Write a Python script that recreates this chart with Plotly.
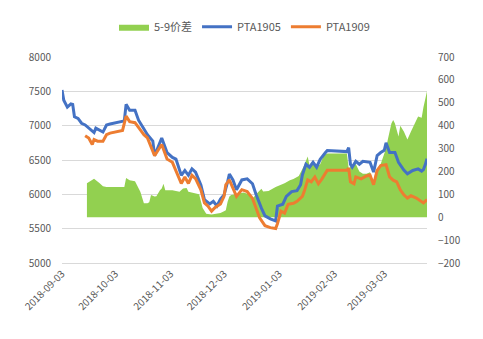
import plotly.graph_objects as go

# ---- data ----
spread_dates = ["2018-09-17","2018-09-20","2018-09-21","2018-09-24","2018-09-26","2018-09-28","2018-10-08","2018-10-09",
"2018-10-11","2018-10-14","2018-10-17","2018-10-19","2018-10-21","2018-10-22","2018-10-23","2018-10-25","2018-10-26",
"2018-10-28","2018-10-29","2018-10-30","2018-10-31","2018-11-04","2018-11-06","2018-11-08","2018-11-10","2018-11-12",
"2018-11-13","2018-11-18","2018-11-19","2018-11-21","2018-11-23","2018-11-26","2018-11-29","2018-12-01","2018-12-03",
"2018-12-04","2018-12-05","2018-12-06","2018-12-07","2018-12-11","2018-12-14","2018-12-17","2018-12-19","2018-12-21",
"2018-12-24","2018-12-25","2018-12-28","2019-01-01","2019-01-04","2019-01-06","2019-01-09","2019-01-11","2019-01-14",
"2019-01-16","2019-01-17","2019-01-19","2019-01-20","2019-01-22","2019-01-24","2019-01-26","2019-01-28","2019-01-30",
"2019-02-10","2019-02-11","2019-02-13","2019-02-15","2019-02-17","2019-02-19","2019-02-21","2019-02-23","2019-02-25",
"2019-02-26","2019-03-01","2019-03-03","2019-03-04","2019-03-05","2019-03-06","2019-03-07","2019-03-08","2019-03-09",
"2019-03-11","2019-03-12","2019-03-14","2019-03-16","2019-03-18","2019-03-20","2019-03-22","2019-03-24","2019-03-25",
"2019-03-27"]
spread_vals = [148,165,168,150,135,132,132,171,
161,157,111,61,61,65,97,90,92,
118,125,146,118,118,115,111,125,128,
111,104,100,40,15,12,14,18,26,
30,68,90,97,105,108,100,81,100,
124,112,115,132,141,148,162,167,180,
209,226,265,226,248,220,231,270,278,
278,215,225,232,200,190,190,196,154,
196,232,280,300,340,380,410,425,410,
353,400,375,340,375,405,440,435,480,
550]

pta1905_dates = ["2018-09-03","2018-09-04","2018-09-06","2018-09-08","2018-09-09","2018-09-10","2018-09-12","2018-09-14",
"2018-09-16","2018-09-18","2018-09-21","2018-09-22","2018-09-24","2018-09-26","2018-09-28","2018-09-30","2018-10-08",
"2018-10-09","2018-10-11","2018-10-14","2018-10-16","2018-10-19","2018-10-21","2018-10-24","2018-10-25","2018-10-29",
"2018-11-01","2018-11-04","2018-11-06","2018-11-09","2018-11-11","2018-11-13","2018-11-15","2018-11-17","2018-11-20",
"2018-11-22","2018-11-25","2018-11-27","2018-11-29","2018-12-01","2018-12-03","2018-12-05","2018-12-06","2018-12-08",
"2018-12-10","2018-12-13","2018-12-16","2018-12-19","2018-12-21","2018-12-24","2018-12-26","2018-12-29","2019-01-01",
"2019-01-02","2019-01-05","2019-01-07","2019-01-10","2019-01-13","2019-01-15","2019-01-16","2019-01-18","2019-01-20",
"2019-01-22","2019-01-24","2019-01-26","2019-01-29","2019-01-30","2019-02-10","2019-02-11","2019-02-12","2019-02-13",
"2019-02-15","2019-02-17","2019-02-19","2019-02-23","2019-02-25","2019-02-27","2019-03-01","2019-03-03","2019-03-04",
"2019-03-06","2019-03-09","2019-03-11","2019-03-14","2019-03-16","2019-03-19","2019-03-22","2019-03-24","2019-03-25",
"2019-03-26","2019-03-27"]
pta1905_vals = [7520,7370,7270,7318,7310,7130,7105,7035,
7010,6963,6900,6963,6940,6907,7010,7025,7070,
7310,7225,7225,7080,6940,6868,6775,6562,6821,
6608,6537,6513,6277,6348,6277,6371,6324,6136,
5923,5860,5898,5830,5930,5990,6182,6296,6210,
6068,6210,6225,6154,5997,5799,5686,5643,5614,
5827,5856,5970,6040,6054,6140,6282,6438,6395,
6466,6395,6509,6608,6637,6622,6679,6438,6395,
6480,6438,6480,6466,6324,6565,6608,6641,6750,
6608,6608,6466,6352,6300,6348,6371,6338,6360,
6430,6520]

pta1909_dates = ["2018-09-16","2018-09-18","2018-09-20","2018-09-21","2018-09-23","2018-09-26","2018-09-28","2018-09-30",
"2018-10-07","2018-10-09","2018-10-11","2018-10-14","2018-10-17","2018-10-19","2018-10-21","2018-10-25","2018-10-29",
"2018-11-01","2018-11-04","2018-11-09","2018-11-11","2018-11-13","2018-11-15","2018-11-17","2018-11-20","2018-11-22",
"2018-11-24","2018-11-26","2018-11-28","2018-12-01","2018-12-03","2018-12-04","2018-12-06","2018-12-08","2018-12-10",
"2018-12-13","2018-12-16","2018-12-19","2018-12-21","2018-12-23","2018-12-26","2018-12-29","2019-01-01","2019-01-02",
"2019-01-04","2019-01-06","2019-01-08","2019-01-11","2019-01-13","2019-01-16","2019-01-17","2019-01-19","2019-01-21",
"2019-01-23","2019-01-25","2019-01-27","2019-01-30","2019-02-10","2019-02-11","2019-02-12","2019-02-14","2019-02-15",
"2019-02-18","2019-02-21","2019-02-23","2019-02-25","2019-02-27","2019-03-01","2019-03-04","2019-03-06","2019-03-08",
"2019-03-10","2019-03-12","2019-03-14","2019-03-16","2019-03-18","2019-03-21","2019-03-24","2019-03-25","2019-03-27"]
pta1909_vals = [6854,6821,6726,6797,6774,6774,6868,6892,
6930,7138,7058,7044,6940,6868,6821,6562,6726,
6513,6466,6158,6253,6158,6277,6229,6065,5875,
5827,5756,5810,5860,5970,6140,6210,6082,5970,
6068,6040,5941,5799,5657,5544,5515,5501,5572,
5756,5728,5856,5870,5898,5970,6040,6210,6182,
6253,6154,6225,6352,6352,6380,6182,6154,6253,
6225,6267,6282,6140,6350,6419,6433,6253,6206,
6182,6065,5993,5945,5980,5945,5898,5875,5923]

tick_dates = ["2018-09-03","2018-10-03","2018-11-03","2018-12-03","2019-01-03","2019-02-03","2019-03-03"]

FONT = "Noto Sans CJK SC"
GREY = "#595959"

fig = go.Figure()
fig.add_trace(go.Scatter(x=spread_dates, y=spread_vals, name="5-9价差", mode="lines",
                         fill="tozeroy", fillcolor="#92D050", line=dict(width=0, color="#92D050"),
                         yaxis="y"))
fig.add_trace(go.Scatter(x=pta1905_dates, y=pta1905_vals, name="PTA1905", mode="lines",
                         line=dict(color="#4472C4", width=3), yaxis="y2"))
fig.add_trace(go.Scatter(x=pta1909_dates, y=pta1909_vals, name="PTA1909", mode="lines",
                         line=dict(color="#ED7D31", width=3), yaxis="y2"))

fig.update_layout(
    width=483, height=339,
    margin=dict(l=62, r=56, t=52, b=76),
    paper_bgcolor="white", plot_bgcolor="white",
    font=dict(family=FONT, size=10, color=GREY),
    showlegend=True,
    legend=dict(orientation="h", x=0.5, xanchor="center", y=1.147, yanchor="middle",
                font=dict(size=11, color=GREY), itemwidth=30, traceorder="normal"),
    xaxis=dict(type="date", range=["2018-09-03", "2019-03-27"], tickvals=tick_dates, ticktext=tick_dates,
               tickangle=-45, showgrid=False, showline=True, linecolor="#d9d9d9", linewidth=1,
               ticks="", tickfont=dict(size=10, color=GREY), zeroline=False),
    yaxis=dict(side="right", range=[-200, 700], dtick=100, showgrid=False, zeroline=False,
               tickfont=dict(size=10, color=GREY), ticklabelstandoff=10),
    yaxis2=dict(side="left", overlaying="y", range=[5000, 8000], dtick=500, showgrid=True,
                gridcolor="#d9d9d9", gridwidth=1, zeroline=False,
                tickfont=dict(size=10, color=GREY), ticklabelstandoff=10),
)

fig.write_html("out.html")
